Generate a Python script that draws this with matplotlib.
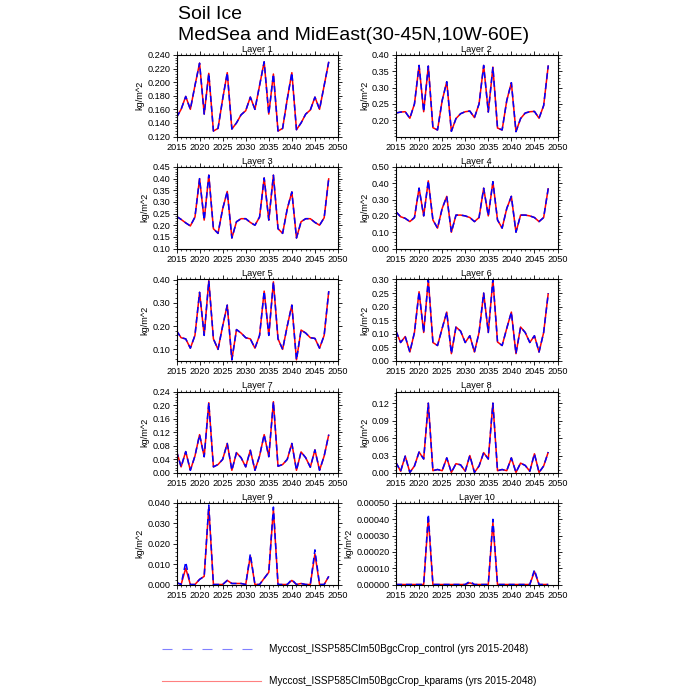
import matplotlib
matplotlib.use("Agg")
import matplotlib.pyplot as plt
from matplotlib.ticker import MultipleLocator, FormatStrFormatter, AutoMinorLocator
from matplotlib.lines import Line2D

plt.rcParams["font.family"] = ["Liberation Sans", "DejaVu Sans"]

years = list(range(2015, 2049))

# control run (blue dashed); kparams run (red) is identical except layers 9/10
layer1 = [0.148, 0.160, 0.179, 0.160, 0.195, 0.228, 0.153, 0.213, 0.128, 0.132,
          0.175, 0.214, 0.131, 0.140, 0.152, 0.158, 0.178, 0.160, 0.195, 0.230,
          0.153, 0.212, 0.128, 0.132, 0.175, 0.214, 0.130, 0.140, 0.153, 0.159,
          0.178, 0.160, 0.195, 0.230]
layer2 = [0.222, 0.225, 0.226, 0.206, 0.250, 0.368, 0.226, 0.366, 0.177, 0.170,
          0.260, 0.318, 0.166, 0.205, 0.220, 0.226, 0.228, 0.208, 0.250, 0.368,
          0.225, 0.363, 0.176, 0.170, 0.260, 0.315, 0.165, 0.205, 0.222, 0.226,
          0.227, 0.206, 0.245, 0.368]
layer3 = [0.238, 0.225, 0.210, 0.197, 0.235, 0.400, 0.222, 0.415, 0.185, 0.165,
          0.270, 0.345, 0.145, 0.215, 0.228, 0.228, 0.212, 0.200, 0.235, 0.403,
          0.222, 0.415, 0.185, 0.165, 0.270, 0.343, 0.145, 0.215, 0.228, 0.228,
          0.212, 0.200, 0.232, 0.402]
layer4 = [0.225, 0.195, 0.185, 0.165, 0.190, 0.370, 0.200, 0.415, 0.175, 0.125,
          0.245, 0.320, 0.100, 0.205, 0.205, 0.200, 0.190, 0.165, 0.190, 0.370,
          0.200, 0.410, 0.175, 0.125, 0.245, 0.320, 0.100, 0.205, 0.205, 0.200,
          0.190, 0.165, 0.190, 0.370]
layer5 = [0.180, 0.150, 0.145, 0.105, 0.160, 0.345, 0.160, 0.395, 0.145, 0.100,
          0.200, 0.290, 0.055, 0.185, 0.170, 0.150, 0.145, 0.105, 0.160, 0.350,
          0.160, 0.390, 0.145, 0.100, 0.200, 0.290, 0.055, 0.183, 0.170, 0.150,
          0.147, 0.105, 0.160, 0.350]
layer6 = [0.110, 0.068, 0.090, 0.033, 0.105, 0.255, 0.105, 0.300, 0.068, 0.057,
          0.120, 0.180, 0.027, 0.125, 0.110, 0.068, 0.093, 0.033, 0.105, 0.250,
          0.105, 0.300, 0.070, 0.057, 0.120, 0.180, 0.027, 0.125, 0.105, 0.068,
          0.093, 0.033, 0.105, 0.250]
layer7 = [0.065, 0.018, 0.063, 0.008, 0.050, 0.113, 0.048, 0.207, 0.018, 0.025,
          0.040, 0.087, 0.008, 0.060, 0.045, 0.018, 0.067, 0.008, 0.050, 0.113,
          0.048, 0.210, 0.020, 0.025, 0.040, 0.087, 0.008, 0.062, 0.045, 0.017,
          0.068, 0.008, 0.050, 0.113]
layer8 = [0.018, 0.003, 0.029, 0.001, 0.012, 0.036, 0.024, 0.120, 0.004, 0.006,
          0.004, 0.026, 0.001, 0.016, 0.014, 0.003, 0.030, 0.001, 0.012, 0.035,
          0.024, 0.120, 0.004, 0.006, 0.004, 0.026, 0.001, 0.017, 0.013, 0.003,
          0.033, 0.001, 0.012, 0.036]
layer9 = [0.0010, 0.0000, 0.0110, 0.0000, 0.0000, 0.0025, 0.0040, 0.0390, 0.0000, 0.0000,
          0.0000, 0.0020, 0.0005, 0.0005, 0.0005, 0.0000, 0.0150, 0.0000, 0.0000, 0.0030,
          0.0060, 0.0380, 0.0000, 0.0000, 0.0000, 0.0025, 0.0000, 0.0005, 0.0000, 0.0000,
          0.0170, 0.0000, 0.0000, 0.0040]
layer9_k = [0.0010, 0.0000, 0.0080, 0.0000, 0.0000, 0.0025, 0.0040, 0.0380, 0.0000, 0.0000,
            0.0000, 0.0020, 0.0005, 0.0005, 0.0005, 0.0000, 0.0140, 0.0000, 0.0000, 0.0030,
            0.0060, 0.0370, 0.0000, 0.0000, 0.0000, 0.0020, 0.0000, 0.0005, 0.0000, 0.0000,
            0.0150, 0.0000, 0.0000, 0.0040]
layer10 = [0, 0, 0, 0, 0, 0, 0, 0.00043, 0, 0,
           0, 0, 0, 0, 0, 0, 0.00002, 0, 0, 0,
           0, 0.00040, 0, 0, 0, 0, 0, 0, 0, 0,
           0.00009, 0, 0, 0]
layer10_k = [0, 0, 0, 0, 0, 0, 0, 0.00041, 0, 0,
             0, 0, 0, 0, 0, 0, 0.00001, 0, 0, 0,
             0, 0.00038, 0, 0, 0, 0, 0, 0, 0, 0,
             0.00008, 0, 0, 0]

control = [layer1, layer2, layer3, layer4, layer5, layer6, layer7, layer8, layer9, layer10]
kparams = [layer1, layer2, layer3, layer4, layer5, layer6, layer7, layer8, layer9_k, layer10_k]

# (ymin, ymax, first tick, tick step, format)
yaxes = [
    (0.12, 0.24, 0.12, 0.02, "%.3f"),
    (0.15, 0.40, 0.20, 0.05, "%.2f"),
    (0.10, 0.45, 0.10, 0.05, "%.2f"),
    (0.00, 0.50, 0.00, 0.10, "%.2f"),
    (0.05, 0.40, 0.10, 0.10, "%.2f"),
    (0.00, 0.30, 0.00, 0.05, "%.2f"),
    (0.00, 0.24, 0.00, 0.04, "%.2f"),
    (0.00, 0.14, 0.00, 0.03, "%.2f"),
    (0.00, 0.04, 0.00, 0.01, "%.3f"),
    (0.00, 0.0005, 0.00, 0.0001, "%.5f"),
]

W, H = 700, 700
fig = plt.figure(figsize=(7, 7), dpi=100)

lefts = [176.5, 396]
tops = [55, 167, 279.5, 391.5, 503]
aw, ah = 161.5, 81.5

for i in range(10):
    col = i % 2
    row = i // 2
    ax = fig.add_axes([lefts[col] / W, 1 - (tops[row] + ah) / H, aw / W, ah / H])
    ax.plot(years, kparams[i], color="red", lw=1.1, solid_capstyle="butt")
    ax.plot(years, control[i], color="blue", lw=1.1, ls=(0, (4, 2.5)))
    ymin, ymax, t0, step, fmt = yaxes[i]
    ax.set_xlim(2015, 2050)
    ax.set_ylim(ymin, ymax)
    ax.xaxis.set_major_locator(MultipleLocator(5))
    ax.xaxis.set_minor_locator(MultipleLocator(1))
    ticks = []
    t = t0
    while t <= ymax + step * 1e-6:
        ticks.append(t)
        t += step
    ax.set_yticks(ticks)
    ax.yaxis.set_major_formatter(FormatStrFormatter(fmt))
    ax.yaxis.set_minor_locator(AutoMinorLocator(5))
    ax.tick_params(which="both", direction="out", top=True, right=True, labelsize=6.6, pad=1.5)
    ax.tick_params(which="major", length=3.0, width=0.6)
    ax.tick_params(which="minor", length=1.5, width=0.5)
    for s in ax.spines.values():
        s.set_linewidth(0.8)
    ax.set_title("Layer %d" % (i + 1), fontsize=6.6, pad=2.5)
    ax.set_ylabel("kg/m^2", fontsize=6.6, labelpad=2)

fig.text(178 / W, 1 - 19 / H, "Soil Ice", fontsize=14, va="baseline")
fig.text(178 / W, 1 - 40 / H, "MedSea and MidEast(30-45N,10W-60E)", fontsize=14, va="baseline")

# legend drawn by hand at the bottom
fig.add_artist(Line2D([162 / W, 255 / W], [1 - 649 / H] * 2, color="#8080ff", lw=0.8,
                      ls=(0, (9, 9))))
fig.add_artist(Line2D([162 / W, 261 / W], [1 - 681 / H] * 2, color="#ff8080", lw=0.8))
fig.text(269 / W, 1 - 649 / H, "Myccost_ISSP585Clm50BgcCrop_control (yrs 2015-2048)",
         fontsize=7.2, va="center")
fig.text(269 / W, 1 - 681 / H, "Myccost_ISSP585Clm50BgcCrop_kparams (yrs 2015-2048)",
         fontsize=7.2, va="center")

fig.savefig("out.png", dpi=100)
